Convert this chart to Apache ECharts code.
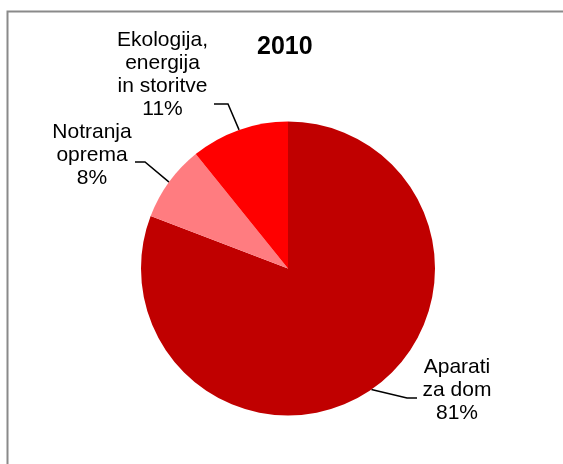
<!DOCTYPE html>
<html>
<head>
<meta charset="utf-8">
<script src="https://cdn.jsdelivr.net/npm/echarts@6/dist/echarts.min.js"></script>
<style>
html,body{margin:0;padding:0;background:#fff;}
#chart{width:563px;height:464px;}
</style>
</head>
<body>
<div id="chart"></div>
<script>
const titleText = '2010';
const categories = ['Aparati\nza dom', 'Notranja\noprema', 'Ekologija,\nenergija\nin storitve'];
const values = [80.8, 8.4, 10.8];
const colors = ['#C00000', '#FF7C80', '#FF0000'];

// label placement (center of label block, leader elbow & end)
const labelPlacement = [
  { x: 457, y: 390.5, elbow: [407, 398], end: [417, 398] },
  { x: 92, y: 155, elbow: [145, 162], end: [135, 162] },
  { x: 162.5, y: 75, elbow: [228, 104], end: [214, 104] }
];

const chart = echarts.init(document.getElementById('chart'), null, { renderer: 'canvas' });
chart.setOption({
  backgroundColor: '#fff',
  animation: false,
  title: {
    text: titleText,
    left: 257,
    top: 35,
    padding: 0,
    textStyle: { fontFamily: 'Liberation Sans, Arial, sans-serif', fontSize: 25, fontWeight: 'bold', color: '#000' }
  },
  graphic: [{
    type: 'rect',
    shape: { x: 7.5, y: 11.5, width: 700, height: 700 },
    style: { fill: 'none', stroke: '#8a8a8a', lineWidth: 2 },
    silent: true
  }],
  series: [{
    type: 'pie',
    center: [288, 268.5],
    radius: 147,
    startAngle: 90,
    clockwise: true,
    avoidLabelOverlap: false,
    percentPrecision: 0,
    data: categories.map((c, i) => ({ name: c, value: values[i], itemStyle: { color: colors[i] } })),
    itemStyle: { borderWidth: 0 },
    label: {
      show: true,
      position: 'outside',
      formatter: '{b}\n{d}%',
      fontFamily: 'Liberation Sans, Arial, sans-serif',
      fontSize: 21,
      lineHeight: 23,
      color: '#000',
      align: 'center'
    },
    labelLine: {
      show: true,
      length: 20,
      length2: 10,
      smooth: false,
      lineStyle: { color: '#000', width: 1.5 }
    },
    labelLayout: function (p) {
      const L = labelPlacement[p.dataIndex];
      const start = p.labelLinePoints ? p.labelLinePoints[0] : L.elbow;
      return {
        x: L.x,
        y: L.y,
        align: 'center',
        verticalAlign: 'middle',
        labelLinePoints: [start, L.elbow, L.end]
      };
    },
    emphasis: { disabled: true }
  }]
});
</script>
</body>
</html>
